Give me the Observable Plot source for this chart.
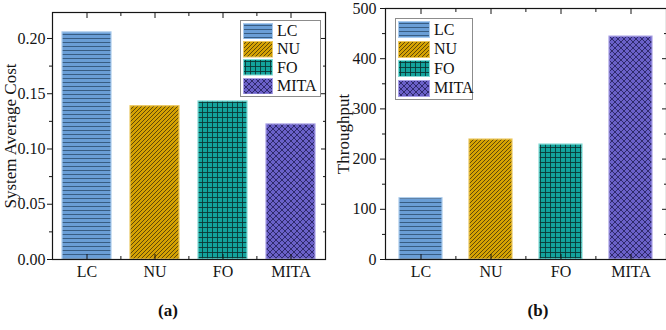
<!DOCTYPE html>
<html><head><meta charset="utf-8">
<script src="https://cdn.jsdelivr.net/npm/d3@7"></script>
<script src="https://cdn.jsdelivr.net/npm/@observablehq/plot@0.6"></script>
<style>
body{margin:0;background:#fff;font-family:"Liberation Serif",serif;}
#wrap{position:relative;width:666px;height:330px;overflow:hidden;background:#fff;}
.panel{position:absolute;top:0;}
.panel text{font-family:"Liberation Serif",serif;}
.legend{position:absolute;border:1px solid #8c8c8c;background:#fff;padding:1px 2px;box-sizing:border-box;}
.row{display:flex;align-items:center;}
.row svg{display:block;flex:none;}
.row span{font-size:16px;margin-left:4px;color:#111;line-height:1;}
.cap{position:absolute;font-weight:bold;font-size:17px;transform:translateX(-50%);color:#111;}
</style></head><body>
<div id="wrap"></div>
<script>
// ---- data ----
const categories = ["LC", "NU", "FO", "MITA"];
const costValues = [0.2055, 0.1387, 0.1430, 0.1222];
const throughputValues = [122, 239, 229, 444];
const costTicks = [0, 0.05, 0.10, 0.15, 0.20];
const costMinorTicks = [0.025, 0.075, 0.125, 0.175];
const throughputTicks = [0, 100, 200, 300, 400, 500];
const throughputMinorTicks = [50, 150, 250, 350, 450];
const costLabel = "System Average Cost";
const throughputLabel = "Throughput";
const captions = ["(a)", "(b)"];

// ---- styles ----
const baseColors = {LC: "#6a9ed6", NU: "#d5a202", FO: "#13a39c", MITA: "#6a60c8"};
const lineColors = {LC: "#2c4c6e", NU: "#4a3a0c", FO: "#0a3331", MITA: "#25215c"};
const edgeColors = {LC: "#a9caec", NU: "#ecc860", FO: "#86dad5", MITA: "#a8a0e6"};

const wrap = document.getElementById("wrap");

// pattern definitions
const defsSvg = d3.select(wrap).append("svg")
  .attr("width", 0).attr("height", 0)
  .style("position", "absolute").style("left", 0).style("top", 0);
const defs = defsSvg.append("defs");
function pattern(id, w, h, bg, draw) {
  const p = defs.append("pattern").attr("id", id)
    .attr("patternUnits", "userSpaceOnUse").attr("width", w).attr("height", h);
  p.append("rect").attr("width", w).attr("height", h).attr("fill", bg);
  draw(p);
}
pattern("p-LC", 8, 4, baseColors.LC, p => p.append("path").attr("d", "M0,2.5H8")
  .attr("stroke", lineColors.LC).attr("stroke-width", 1).attr("stroke-opacity", 0.8));
pattern("p-NU", 4, 4, baseColors.NU, p => p.append("path").attr("d", "M0,4L4,0M-1,1L1,-1M3,5L5,3")
  .attr("stroke", lineColors.NU).attr("stroke-width", 1).attr("stroke-opacity", 0.85));
pattern("p-FO", 5, 5, baseColors.FO, p => p.append("path").attr("d", "M0,2.5H5M2.5,0V5")
  .attr("stroke", lineColors.FO).attr("stroke-width", 1).attr("stroke-opacity", 0.85));
pattern("p-MITA", 6, 6, baseColors.MITA, p => p.append("path").attr("d", "M0,0L6,6M6,0L0,6")
  .attr("stroke", lineColors.MITA).attr("stroke-width", 1).attr("stroke-opacity", 0.85));

const none = () => "";

function panel({values, yDomain, ticks, minor, fmt, label, labelOffset, marginLeft, marginRight, marginTop, paddingInner, tickPadding}) {
  const data = categories.map((c, i) => ({cat: c, value: values[i]}));
  const width = 333;
  const step = (width - marginLeft - marginRight) / categories.length;
  const between = categories.slice(1);
  return Plot.plot({
    width, height: 290,
    marginLeft, marginRight, marginTop, marginBottom: 31,
    style: {fontFamily: "Liberation Serif", fontSize: "16px", color: "#151515", background: "transparent", overflow: "visible"},
    x: {domain: categories, paddingInner, paddingOuter: paddingInner / 2, label: null},
    y: {domain: yDomain, label: null},
    color: {type: "identity"},
    marks: [
      Plot.barY(data, {x: "cat", y: "value", fill: d => `url(#p-${d.cat})`, stroke: d => edgeColors[d.cat], strokeWidth: 1.2}),
      Plot.frame({stroke: "#151515", strokeWidth: 1.2}),
      Plot.axisY(ticks, {anchor: "left", tickSize: 5, tickPadding, tickFormat: fmt, label, labelAnchor: "center", labelArrow: "none", labelOffset, fontSize: 16}),
      Plot.axisY(minor, {anchor: "left", tickSize: 3, tickFormat: none, label: null}),
      Plot.axisY(ticks, {anchor: "right", tickSize: -5, tickFormat: none, label: null}),
      Plot.axisY(minor, {anchor: "right", tickSize: -3, tickFormat: none, label: null}),
      Plot.axisX({anchor: "bottom", tickSize: 0, tickPadding: 6, label: null, fontSize: 16}),
      Plot.axisX({anchor: "bottom", tickSize: -5, tickFormat: none, label: null}),
      Plot.axisX(between, {anchor: "bottom", tickSize: -3, dx: -step / 2, tickFormat: none, label: null}),
      Plot.axisX({anchor: "top", tickSize: -5, tickFormat: none, label: null}),
      Plot.axisX(between, {anchor: "top", tickSize: -3, dx: -step / 2, tickFormat: none, label: null})
    ]
  });
}

const left = panel({values: costValues, yDomain: [0, 0.2235], ticks: costTicks, minor: costMinorTicks,
  fmt: d3.format(".2f"), label: costLabel, labelOffset: 49, marginLeft: 52, marginRight: 8, marginTop: 12, paddingInner: 0.28, tickPadding: 2});
const right = panel({values: throughputValues, yDomain: [0, 500], ticks: throughputTicks, minor: throughputMinorTicks,
  fmt: d3.format("d"), label: throughputLabel, labelOffset: 49, marginLeft: 52, marginRight: 0, marginTop: 8, paddingInner: 0.39, tickPadding: 4});
left.classList.add("panel"); left.style.left = "0px";
right.classList.add("panel"); right.style.left = "333px";
wrap.appendChild(left);
wrap.appendChild(right);
// axis titles slightly larger
d3.selectAll(".panel [aria-label='y-axis label'] text, .panel [aria-label='y-axis label']").style("font-size", "17px");

// legends
function legend(x, y, w, rowH, swW, swH) {
  const div = document.createElement("div");
  div.className = "legend";
  div.style.left = x + "px"; div.style.top = y + "px"; div.style.width = w + "px";
  categories.forEach(c => {
    const row = document.createElement("div");
    row.className = "row"; row.style.height = rowH + "px";
    const s = d3.create("svg").attr("width", swW).attr("height", swH);
    s.append("rect").attr("x", 0.5).attr("y", 0.5).attr("width", swW - 1).attr("height", swH - 1)
      .attr("fill", `url(#p-${c})`).attr("stroke", edgeColors[c]).attr("stroke-width", 1);
    row.appendChild(s.node());
    const t = document.createElement("span"); t.textContent = c;
    row.appendChild(t);
    div.appendChild(row);
  });
  wrap.appendChild(div);
}
legend(240, 20, 81, 18.3, 30, 16.5);
legend(395, 18, 78, 19.5, 32, 17);

// captions
[[168, captions[0]], [538, captions[1]]].forEach(([x, t]) => {
  const d = document.createElement("div");
  d.className = "cap"; d.style.left = x + "px"; d.style.top = "301px"; d.textContent = t;
  wrap.appendChild(d);
});
</script>
</body></html>
